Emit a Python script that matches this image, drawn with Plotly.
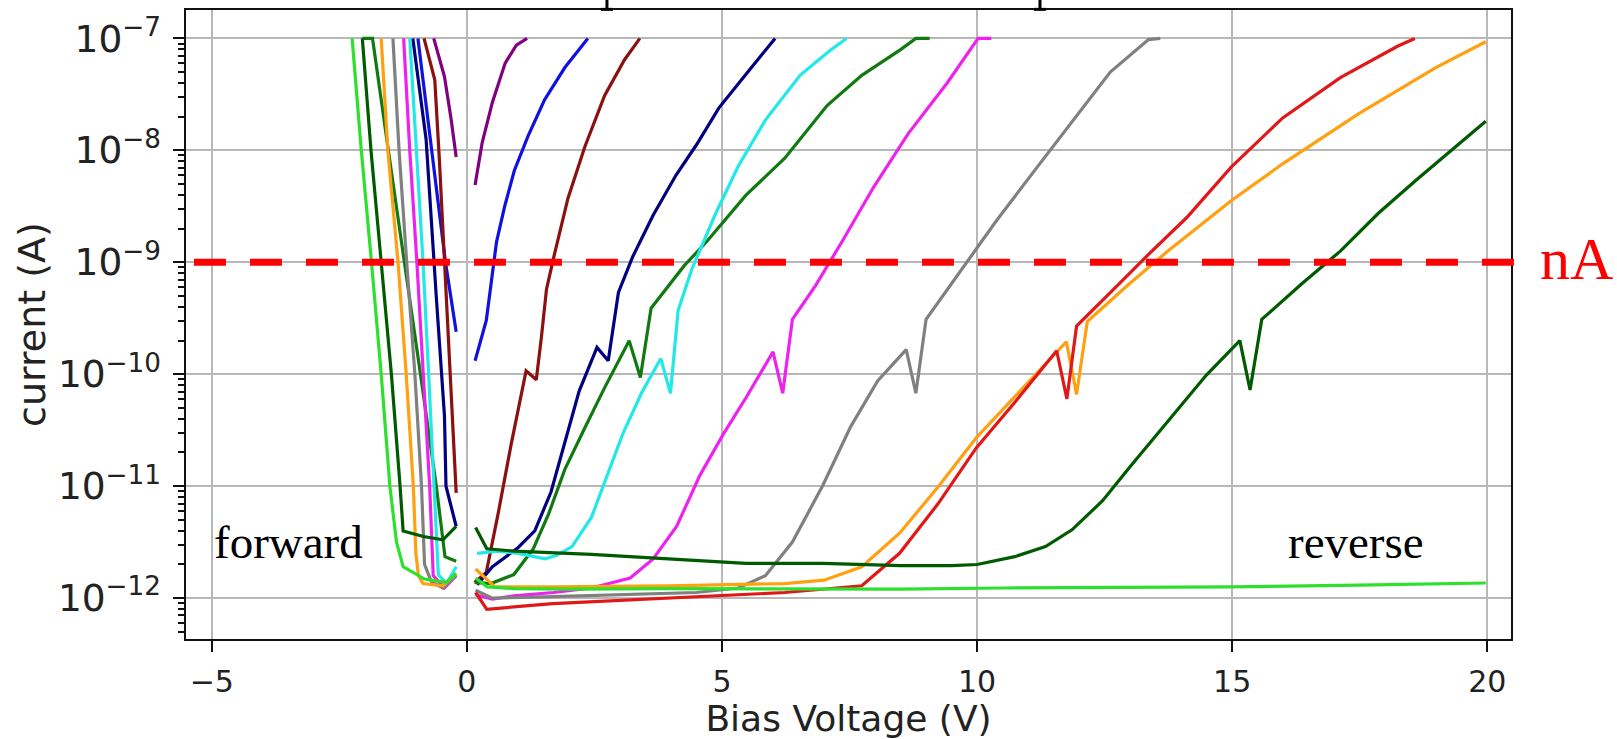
import plotly.graph_objects as go

# ---------------- data (bias voltage in V, log10 of current in A) ----------------
# forward branches (negative bias) and reverse branches (positive bias)
purple_fwd_v = [-0.65, -0.44, -0.31, -0.21]
purple_fwd_log = [-7.0, -7.34, -7.72, -8.06]
purple_rev_v = [0.16, 0.30, 0.50, 0.75, 0.97, 1.18]
purple_rev_log = [-8.31, -7.93, -7.57, -7.22, -7.06, -7.0]

blue_fwd_v = [-0.96, -0.80, -0.62, -0.42, -0.21]
blue_fwd_log = [-7.0, -7.6, -8.3, -9.0, -9.62]
blue_rev_v = [0.16, 0.38, 0.48, 0.58, 0.74, 0.93, 1.20, 1.52, 1.92, 2.37]
blue_rev_log = [-9.88, -9.52, -9.17, -8.82, -8.50, -8.18, -7.87, -7.55, -7.26, -7.0]

maroon_fwd_v = [-0.84, -0.63, -0.54, -0.41, -0.31, -0.21]
maroon_fwd_log = [-7.0, -7.37, -8.08, -9.31, -10.2, -11.06]
maroon_rev_v = [0.15, 0.38, 0.61, 0.87, 1.16, 1.36, 1.46, 1.56, 1.72, 1.98, 2.31, 2.70, 3.09, 3.39]
maroon_rev_log = [-11.86, -11.77, -11.25, -10.62, -9.97, -10.05, -9.67, -9.24, -8.92, -8.43, -7.97, -7.51, -7.19, -7.0]

navy_fwd_v = [-1.06, -0.80, -0.60, -0.44, -0.41, -0.21]
navy_fwd_log = [-7.0, -7.9, -9.31, -10.37, -11.0, -11.36]
navy_rev_v = [0.20, 0.50, 1.00, 1.33, 1.65, 1.95, 2.20, 2.55, 2.77, 2.97, 3.25, 3.65, 4.10, 4.50, 4.94, 5.47, 6.04]
navy_rev_log = [-11.88, -11.72, -11.55, -11.40, -11.05, -10.55, -10.15, -9.76, -9.88, -9.27, -8.95, -8.58, -8.22, -7.95, -7.62, -7.32, -7.0]

green_fwd_v = [-2.05, -1.85, -1.54, -1.22, -0.91, -0.60, -0.43, -0.21]
green_fwd_log = [-7.0, -7.0, -8.0, -9.0, -10.0, -11.0, -11.63, -11.67]
green_rev_v = [0.15, 0.47, 0.92, 1.30, 1.60, 1.92, 2.31, 2.70, 3.18, 3.40, 3.61, 4.26, 4.71, 5.47, 6.23, 7.06, 7.74, 8.50, 8.80, 9.07]
green_rev_log = [-11.86, -11.87, -11.79, -11.56, -11.25, -10.85, -10.48, -10.12, -9.70, -10.03, -9.41, -9.03, -8.81, -8.40, -8.07, -7.60, -7.33, -7.10, -7.0, -7.0]

cyan_fwd_v = [-1.12, -0.99, -0.86, -0.75, -0.64, -0.56, -0.40, -0.21]
cyan_fwd_log = [-7.0, -8.0, -9.0, -10.0, -11.0, -11.79, -11.87, -11.72]
cyan_rev_v = [0.20, 0.60, 1.00, 1.30, 1.53, 1.75, 2.06, 2.44, 2.74, 3.05, 3.42, 3.80, 3.99, 4.14, 4.41, 4.86, 5.32, 5.85, 6.53, 7.14, 7.44]
cyan_rev_log = [-11.60, -11.58, -11.60, -11.63, -11.65, -11.62, -11.54, -11.28, -10.91, -10.54, -10.17, -9.86, -10.17, -9.43, -9.06, -8.58, -8.14, -7.73, -7.33, -7.10, -7.0]

magenta_fwd_v = [-1.24, -1.12, -0.98, -0.85, -0.73, -0.66, -0.44, -0.21]
magenta_fwd_log = [-7.0, -8.0, -9.0, -10.0, -11.0, -11.8, -11.91, -11.8]
magenta_rev_v = [0.17, 0.50, 0.92, 1.70, 2.44, 3.20, 3.65, 4.11, 4.56, 5.02, 5.47, 6.00, 6.19, 6.38, 6.83, 7.36, 7.97, 8.65, 9.41, 10.02, 10.28]
magenta_rev_log = [-11.97, -12.01, -11.98, -11.95, -11.91, -11.82, -11.65, -11.36, -10.91, -10.54, -10.21, -9.80, -10.17, -9.51, -9.21, -8.81, -8.33, -7.85, -7.40, -7.0, -7.0]

gray_fwd_v = [-1.45, -1.33, -1.18, -1.02, -0.89, -0.83, -0.70, -0.47, -0.21]
gray_fwd_log = [-7.0, -8.0, -9.0, -10.0, -11.0, -11.7, -11.85, -11.91, -11.8]
gray_rev_v = [0.17, 0.50, 1.50, 3.00, 4.50, 5.32, 5.85, 6.38, 6.98, 7.52, 8.05, 8.61, 8.80, 9.00, 9.61, 10.36, 11.11, 11.86, 12.61, 13.36, 13.59]
gray_rev_log = [-11.93, -12.0, -11.99, -11.97, -11.95, -11.91, -11.80, -11.50, -10.99, -10.47, -10.06, -9.78, -10.17, -9.51, -9.12, -8.64, -8.19, -7.74, -7.30, -7.01, -7.0]

orange_fwd_v = [-1.68, -1.55, -1.35, -1.19, -1.05, -1.00, -0.95, -0.86, -0.47, -0.21]
orange_fwd_log = [-7.0, -8.0, -9.0, -10.0, -11.0, -11.6, -11.8, -11.87, -11.89, -11.78]
orange_rev_v = [0.17, 0.55, 1.68, 3.95, 6.23, 7.00, 7.74, 8.48, 9.23, 9.98, 10.74, 11.75, 11.95, 12.16, 12.99, 13.74, 14.98, 15.99, 17.49, 18.99, 19.97]
orange_rev_log = [-11.74, -11.90, -11.90, -11.89, -11.87, -11.84, -11.72, -11.42, -11.01, -10.57, -10.20, -9.71, -10.18, -9.53, -9.19, -8.90, -8.45, -8.12, -7.67, -7.26, -7.03]

red_rev_v = [0.17, 0.39, 1.68, 3.95, 6.23, 7.74, 8.48, 9.23, 9.98, 10.74, 11.56, 11.76, 11.95, 12.61, 13.36, 14.11, 14.98, 15.99, 17.12, 18.24, 18.58]
red_rev_log = [-11.95, -12.10, -12.05, -12.0, -11.95, -11.89, -11.60, -11.16, -10.66, -10.25, -9.79, -10.22, -9.57, -9.27, -8.93, -8.60, -8.15, -7.71, -7.35, -7.07, -7.0]

darkgreen_fwd_v = [-2.05, -1.88, -1.68, -1.48, -1.31, -1.25, -0.85, -0.47, -0.21]
darkgreen_fwd_log = [-7.0, -8.0, -9.0, -10.0, -11.0, -11.40, -11.45, -11.48, -11.36]
darkgreen_rev_v = [0.17, 0.39, 0.92, 2.44, 3.95, 5.47, 6.98, 8.50, 9.50, 10.0, 10.74, 11.34, 11.86, 12.46, 12.99, 13.74, 14.49, 15.15, 15.35, 15.58, 16.37, 17.12, 17.87, 18.62, 19.37, 19.97]
darkgreen_rev_log = [-11.37, -11.56, -11.58, -11.61, -11.65, -11.69, -11.69, -11.71, -11.71, -11.70, -11.63, -11.54, -11.39, -11.13, -10.83, -10.42, -10.01, -9.70, -10.14, -9.51, -9.19, -8.90, -8.56, -8.26, -7.97, -7.74]

lime_fwd_v = [-2.25, -2.07, -1.87, -1.68, -1.51, -1.38, -1.25, -0.83, -0.40, -0.21]
lime_fwd_log = [-7.0, -8.0, -9.0, -10.0, -11.0, -11.5, -11.72, -11.83, -11.86, -11.78]
lime_rev_v = [0.17, 0.40, 0.92, 2.00, 3.95, 6.23, 8.48, 10.50, 12.24, 14.98, 17.49, 19.97]
lime_rev_log = [-11.82, -11.90, -11.915, -11.92, -11.915, -11.915, -11.92, -11.91, -11.905, -11.90, -11.885, -11.865]

x_tick_vals = [-5, 0, 5, 10, 15, 20]
x_tick_text = ["\u22125", "0", "5", "10", "15", "20"]
threshold_current = 1e-9

curves = [
    ("#800080", purple_fwd_v, purple_fwd_log, purple_rev_v, purple_rev_log),
    ("#1010e0", blue_fwd_v, blue_fwd_log, blue_rev_v, blue_rev_log),
    ("#8b1010", maroon_fwd_v, maroon_fwd_log, maroon_rev_v, maroon_rev_log),
    ("#000080", navy_fwd_v, navy_fwd_log, navy_rev_v, navy_rev_log),
    ("#107a10", green_fwd_v, green_fwd_log, green_rev_v, green_rev_log),
    ("#22e8e8", cyan_fwd_v, cyan_fwd_log, cyan_rev_v, cyan_rev_log),
    ("#ee22ee", magenta_fwd_v, magenta_fwd_log, magenta_rev_v, magenta_rev_log),
    ("#808080", gray_fwd_v, gray_fwd_log, gray_rev_v, gray_rev_log),
    ("#ffa010", orange_fwd_v, orange_fwd_log, orange_rev_v, orange_rev_log),
    ("#e01818", [], [], red_rev_v, red_rev_log),
    ("#005a00", darkgreen_fwd_v, darkgreen_fwd_log, darkgreen_rev_v, darkgreen_rev_log),
    ("#2ee02e", lime_fwd_v, lime_fwd_log, lime_rev_v, lime_rev_log),
]

fig = go.Figure()
for color, fv, fl, rv, rl in curves:
    xs = list(fv) + ([None] if fv else []) + list(rv)
    ys = [10 ** v for v in fl] + ([None] if fl else []) + [10 ** v for v in rl]
    fig.add_trace(go.Scatter(x=xs, y=ys, mode="lines", connectgaps=False,
                             line=dict(color=color, width=3.2), hoverinfo="skip"))

axis_font = dict(family="DejaVu Sans", size=30, color="#222222")

fig.update_layout(
    width=1617, height=739,
    margin=dict(l=186, r=106, t=10, b=100, autoexpand=False),
    paper_bgcolor="white", plot_bgcolor="white",
    showlegend=False,
    xaxis=dict(
        range=[-5.506, 20.465], tickvals=x_tick_vals, ticktext=x_tick_text,
        showgrid=True, gridcolor="#b8b8b8", gridwidth=2,
        showline=True, linecolor="#111111", linewidth=2, mirror=True,
        ticks="outside", ticklen=11, tickwidth=2, tickcolor="#111111",
        tickfont=axis_font, ticklabelstandoff=4, zeroline=False,
        title=dict(text="Bias Voltage (V)", font=dict(family="DejaVu Sans", size=36, color="#222222"), standoff=12),
        automargin=False,
    ),
    yaxis=dict(
        type="log", range=[-12.3655, -6.746], dtick=1, exponentformat="power",
        showgrid=True, gridcolor="#b8b8b8", gridwidth=2,
        showline=True, linecolor="#111111", linewidth=2, mirror=True,
        ticks="outside", ticklen=11, tickwidth=2, tickcolor="#111111",
        minor=dict(ticks="outside", ticklen=6, tickwidth=1.5, tickcolor="#111111", showgrid=False),
        tickfont=axis_font, ticklabelstandoff=6, zeroline=False,
        title=dict(text="current (A)", font=dict(family="DejaVu Sans", size=38, color="#222222"), standoff=1),
        automargin=False,
    ),
)

# red dashed reference line at 1 nA
fig.add_shape(type="line", xref="paper", yref="y", x0=0.006, x1=1.0023,
              y0=threshold_current, y1=threshold_current,
              line=dict(color="#ff0000", width=7, dash="32px,24px"))

# cropped title fragments at the top edge
for px in (0.3177, 0.6445):
    fig.add_shape(type="line", xref="paper", yref="paper", x0=px, x1=px, y0=1.0, y1=1.02,
                  line=dict(color="black", width=3))
    fig.add_shape(type="line", xref="paper", yref="paper", x0=px - 0.0045, x1=px + 0.0045,
                  y0=1.001, y1=1.001, line=dict(color="black", width=3))

serif = "Liberation Serif"
fig.add_annotation(text="forward", x=-5.0, y=-11.5, xref="x", yref="y", xanchor="left", yanchor="middle",
                   showarrow=False, font=dict(family=serif, size=47, color="black"))
fig.add_annotation(text="reverse", x=16.05, y=-11.5, xref="x", yref="y", xanchor="left", yanchor="middle",
                   showarrow=False, font=dict(family=serif, size=47, color="black"))
fig.add_annotation(text="nA", x=1.02, y=-8.97, xref="paper", yref="y", xanchor="left", yanchor="middle",
                   showarrow=False, font=dict(family=serif, size=60, color="#ff0000"))

fig.write_html("out.html")
